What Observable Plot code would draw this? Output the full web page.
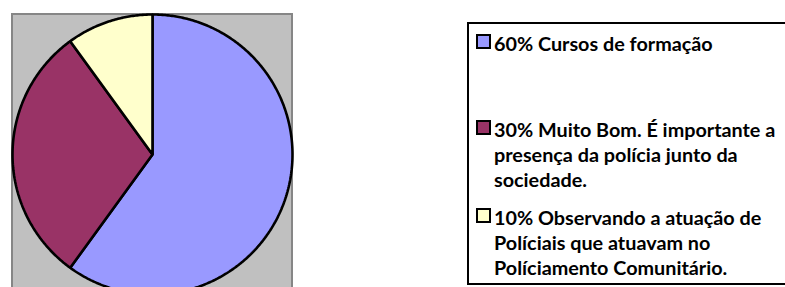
<!DOCTYPE html>
<html><head><meta charset="utf-8">
<script src="https://cdn.jsdelivr.net/npm/d3@7"></script>
<script src="https://cdn.jsdelivr.net/npm/@observablehq/plot@0.6"></script>
<style>
html,body{margin:0;padding:0;background:#fff;overflow:hidden;width:785px;height:287px}
#wrap{position:relative;width:785px;height:287px;overflow:hidden}
#piebox{position:absolute;left:11px;top:12.5px;width:278px;height:300px;background:#c0c0c0;border:2px solid #868686}
#pie{position:absolute;left:12px;top:13.5px;width:280px;height:280px}
#legend{position:absolute;left:466.5px;top:21.5px;width:340px;height:259px;border:2px solid #000}
.sw{position:absolute;width:11px;height:11px;border:2px solid #000}
.tx{position:absolute;font-family:Lato,"Open Sans",sans-serif;font-weight:700;font-size:19.8px;line-height:25px;color:#000;white-space:nowrap}
</style></head>
<body>
<div id="wrap">
  <div id="piebox"></div>
  <div id="pie"></div>
  <div id="legend"></div>
</div>
<script>
const categories = ["60% Cursos de formação",
  "30% Muito Bom. É importante a presença da polícia junto da sociedade.",
  "10% Observando a atuação de Políciais que atuavam no Políciamento Comunitário."];
const values = [60, 30, 10];
const colors = ["#9999ff", "#993366", "#ffffcc"];
const legendLines = [
  ["60% Cursos de formação"],
  ["30% Muito Bom. É importante a", "presença da polícia junto da", "sociedade."],
  ["10% Observando a atuação de", "Políciais que atuavam no", "Políciamento Comunitário."]
];

// build slice polygons from the values (clockwise from 12 o'clock)
const arcs = d3.pie().sort(null)(values);
const features = arcs.map((a, i) => {
  const n = Math.max(8, Math.ceil((a.endAngle - a.startAngle) / 0.01));
  const ring = [[0, 0]];
  for (let k = 0; k <= n; k++) {
    const t = a.startAngle + (a.endAngle - a.startAngle) * k / n;
    ring.push([Math.sin(t), Math.cos(t)]);
  }
  ring.push([0, 0]);
  return {type: "Feature", properties: {label: categories[i]}, geometry: {type: "Polygon", coordinates: [ring]}};
});

const chart = Plot.plot({
  width: 280, height: 280, margin: 0,
  projection: {type: "reflect-y", inset: 0, domain: {type: "MultiPoint", coordinates: [[-1, -1], [1, 1]]}},
  color: {domain: categories, range: colors},
  style: {background: "transparent", overflow: "visible"},
  marks: [
    Plot.geo(features, {fill: d => d.properties.label, stroke: "#000", strokeWidth: 2.6, strokeLinejoin: "miter"})
  ]
});
document.getElementById("pie").appendChild(chart);

// legend
const legend = document.getElementById("legend");
const itemTops = [30.5, 116.5, 204.5];
const ox = 466.5 + 2, oy = 21.5 + 2;
legendLines.forEach((lines, i) => {
  const sw = document.createElement("div");
  sw.className = "sw";
  sw.style.background = colors[i];
  sw.style.left = (475.5 - ox) + "px";
  sw.style.top = (itemTops[i] + 12.5 - 9 - oy) + "px";
  legend.appendChild(sw);
  const tx = document.createElement("div");
  tx.className = "tx";
  tx.style.left = (494 - ox) + "px";
  tx.style.top = (itemTops[i] - oy) + "px";
  tx.innerHTML = lines.map(l => l.replace(/&/g, "&amp;")).join("<br>");
  legend.appendChild(tx);
});
</script>
</body></html>
